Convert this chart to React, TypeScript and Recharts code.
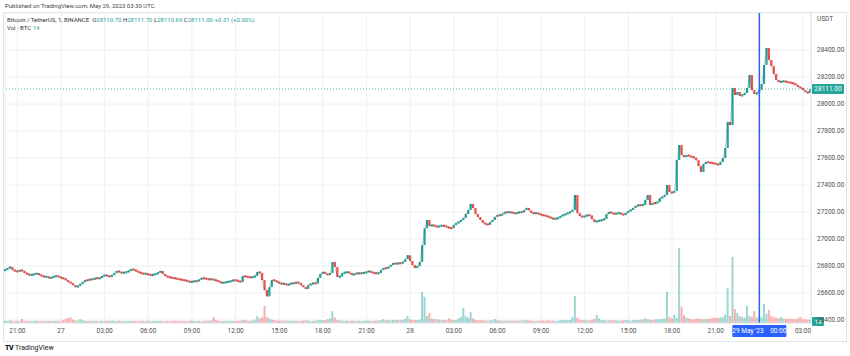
import { Bar, CartesianGrid, ComposedChart, Line, ReferenceLine, XAxis, YAxis } from 'recharts';

// BTCUSDT, 10-minute closes, starting May 26 20:10 UTC
const closes = [
  26770, 26785, 26793, 26770, 26763, 26758, 26770, 26765, 26748, 26740, 26733, 26735,
  26741, 26745, 26735, 26726, 26719, 26722, 26711, 26714, 26722, 26728, 26719, 26711,
  26708, 26696, 26681, 26674, 26659, 26644, 26652, 26667, 26681, 26696, 26693, 26704,
  26700, 26711, 26708, 26711, 26726, 26733, 26728, 26719, 26733, 26748, 26763, 26756,
  26748, 26752, 26756, 26763, 26778, 26770, 26763, 26752, 26748, 26741, 26744, 26735,
  26733, 26736, 26741, 26750, 26763, 26741, 26726, 26719, 26714, 26711, 26708, 26704,
  26700, 26696, 26693, 26689, 26681, 26684, 26689, 26686, 26700, 26711, 26708, 26704,
  26700, 26704, 26696, 26693, 26684, 26674, 26677, 26681, 26684, 26689, 26696, 26693,
  26689, 26681, 26726, 26722, 26719, 26715, 26719, 26726, 26756, 26750, 26696, 26622,
  26575, 26644, 26696, 26693, 26681, 26674, 26667, 26670, 26659, 26665, 26674, 26670,
  26681, 26674, 26659, 26644, 26630, 26659, 26667, 26674, 26670, 26711, 26741, 26756,
  26744, 26733, 26748, 26830, 26793, 26719, 26722, 26748, 26752, 26756, 26748, 26733,
  26741, 26748, 26745, 26748, 26750, 26756, 26763, 26752, 26748, 26745, 26748, 26770,
  26785, 26782, 26793, 26807, 26822, 26815, 26822, 26820, 26830, 26850, 26880, 26837,
  26807, 26785, 26800, 26830, 26955, 27080, 27141, 27096, 27104, 27096, 27089, 27096,
  27100, 27096, 27089, 27082, 27080, 27104, 27119, 27126, 27141, 27155, 27185, 27215,
  27260, 27230, 27185, 27163, 27141, 27119, 27111, 27104, 27126, 27141, 27163, 27178,
  27175, 27185, 27200, 27197, 27200, 27193, 27190, 27193, 27200, 27197, 27215, 27230,
  27212, 27193, 27190, 27193, 27185, 27178, 27175, 27170, 27163, 27155, 27148, 27152,
  27155, 27170, 27178, 27185, 27193, 27200, 27215, 27326, 27193, 27170, 27163, 27170,
  27178, 27175, 27148, 27126, 27133, 27136, 27141, 27148, 27185, 27200, 27193, 27185,
  27190, 27193, 27185, 27178, 27193, 27207, 27215, 27230, 27245, 27252, 27250, 27252,
  27289, 27326, 27252, 27267, 27265, 27274, 27304, 27311, 27326, 27400, 27348, 27341,
  27356, 27585, 27696, 27622, 27607, 27622, 27615, 27607, 27604, 27585, 27541, 27496,
  27556, 27570, 27567, 27563, 27560, 27556, 27548, 27570, 27600, 27674, 27867, 27844,
  28119, 28067, 28089, 28060, 28067, 28081, 28119, 28215, 28104, 28074, 28081, 28104,
  28148, 28289, 28415, 28326, 28282, 28222, 28178, 28163, 28165, 28170, 28163, 28160,
  28156, 28152, 28141, 28126, 28119, 28104, 28089, 28081, 28111,
];

// volume (BTC) per 10-minute slot
const volumes = [
  30, 25, 35, 28, 22, 30, 26, 52, 30, 24, 28, 22,
  26, 30, 24, 28, 22, 26, 30, 24, 28, 26, 30, 24,
  40, 55, 65, 78, 45, 35, 30, 52, 38, 30, 26, 28,
  24, 30, 26, 22, 28, 24, 30, 26, 32, 28, 24, 30,
  26, 22, 28, 24, 26, 30, 24, 22, 28, 26, 24, 30,
  22, 26, 28, 24, 30, 26, 22, 28, 24, 26, 30, 24,
  28, 24, 26, 22, 28, 30, 26, 24, 28, 22, 26, 30,
  28, 36, 78, 40, 30, 26, 24, 28, 26, 30, 24, 28,
  26, 30, 40, 34, 30, 28, 32, 45, 90, 60, 80, 220,
  78, 60, 45, 38, 32, 30, 34, 28, 30, 26, 32, 28,
  30, 26, 28, 32, 34, 30, 26, 28, 30, 36, 40, 38,
  34, 50, 60, 155, 70, 40, 34, 30, 28, 32, 26, 30,
  28, 24, 30, 26, 28, 32, 30, 26, 28, 30, 34, 38,
  52, 40, 36, 34, 38, 42, 40, 36, 44, 56, 90, 48,
  40, 36, 38, 45, 400, 340, 90, 130, 60, 52, 48, 45,
  40, 42, 38, 65, 44, 40, 36, 60, 80, 195, 90, 70,
  140, 60, 40, 36, 34, 38, 32, 30, 34, 36, 52, 36,
  32, 30, 28, 34, 30, 28, 32, 30, 28, 34, 30, 40,
  32, 30, 28, 26, 30, 28, 32, 30, 34, 28, 30, 26,
  30, 34, 38, 40, 36, 42, 80, 350, 70, 46, 40, 34,
  32, 36, 42, 55, 104, 60, 40, 34, 32, 30, 38, 36,
  34, 30, 32, 36, 38, 34, 30, 36, 40, 38, 44, 46,
  60, 50, 44, 40, 46, 52, 48, 56, 60, 400, 80, 60,
  104, 65, 970, 210, 100, 70, 60, 52, 48, 56, 60, 52,
  48, 52, 56, 60, 64, 70, 66, 72, 78, 110, 450, 90,
  850, 180, 130, 90, 80, 70, 220, 90, 80, 156, 70, 65,
  80, 245, 120, 168, 90, 75, 70, 60, 78, 56, 60, 52,
  56, 50, 48, 60, 78, 52, 48, 44, 40,
];

const priceTicks = [26400, 26600, 26800, 27000, 27200, 27400, 27600, 27800, 28000, 28200, 28400];
// hours counted from May 26 00:00 UTC
const timeTicks = [21, 24, 27, 30, 33, 36, 39, 42, 45, 48, 51, 54, 57, 60, 63, 66, 69, 72, 75];
const dayLabels: Record<number, string> = { 24: '27', 48: '28' };

const START_HOUR = 20 + 10 / 60;
const STEP_HOUR = 10 / 60;
const LAST_PRICE = 28111;
const CROSSHAIR_HOUR = 72;

const UP = '#26a69a';
const DOWN = '#ef5350';
const FONT = 'Roboto, "DejaVu Sans", sans-serif';

const data = closes.map((close, i) => {
  const open = i === 0 ? close : closes[i - 1];
  return {
    t: START_HOUR + i * STEP_HOUR,
    close,
    body: [Math.min(open, close), Math.max(open, close)],
    up: close >= open,
    vol: volumes[i],
  };
});

function fmtTime(t: number) {
  if (t === CROSSHAIR_HOUR) return '';
  if (dayLabels[t]) return dayLabels[t];
  return String(t % 24).padStart(2, '0') + ':00';
}

function Candle(props: any) {
  const { x, y, width, height, payload } = props;
  if (x == null || y == null) return null;
  let top = Math.min(y, y + height);
  let h = Math.abs(height);
  if (h < 2.2) {
    top = top + h / 2 - 1.1;
    h = 2.2;
  }
  return <rect x={x} y={top} width={width} height={h} fill={payload.up ? UP : DOWN} />;
}

function VolBar(props: any) {
  const { x, y, width, height, payload } = props;
  if (!height) return null;
  return <rect x={x} y={y} width={width} height={height} fill={payload.up ? UP : DOWN} fillOpacity={0.45} />;
}

function PriceTag(props: any) {
  const vb = props.viewBox;
  const left = vb.x + vb.width + 1;
  return (
    <g>
      <rect x={left} y={vb.y - 5} width={32} height={10} fill={UP} rx={1} />
      <text x={left + 16} y={vb.y + 2.3} textAnchor="middle" fontSize={6.5} fill="#fff" fontFamily={FONT}>
        {LAST_PRICE.toFixed(2)}
      </text>
    </g>
  );
}

function VolTag(props: any) {
  const vb = props.viewBox;
  const left = vb.x + vb.width + 1;
  return (
    <g>
      <rect x={left} y={vb.y - 5} width={12} height={9} fill={UP} rx={1} />
      <text x={left + 6} y={vb.y + 1.6} textAnchor="middle" fontSize={6} fill="#fff" fontFamily={FONT}>
        14
      </text>
    </g>
  );
}

function CrosshairTag(props: any) {
  const vb = props.viewBox;
  const bottom = vb.y + vb.height;
  return (
    <g>
      <rect x={vb.x - 27} y={bottom + 2} width={54} height={12} fill="#2962ff" rx={1} />
      <text x={vb.x} y={bottom + 10.3} textAnchor="middle" fontSize={6.5} fill="#fff" fontFamily={FONT}>
        {"29 May '23\u2002\u200200:00"}
      </text>
    </g>
  );
}

export default function App() {
  return (
    <div style={{ position: 'absolute', left: 0, top: 0, width: 850, height: 356, background: '#fff', fontFamily: FONT, overflow: 'hidden' }}>
      <div style={{ position: 'absolute', left: 5, top: 2, fontSize: 6, color: '#444', whiteSpace: 'nowrap' }}>
        Published on TradingView.com, May 29, 2023 03:30 UTC
      </div>
      <div style={{ position: 'absolute', left: 3, top: 12, width: 844, height: 330, border: '1px solid #e0e3eb', boxSizing: 'border-box' }} />
      <div style={{ position: 'absolute', left: 0, top: 0 }}>
        <ComposedChart width={850} height={356} data={data} margin={{ top: 13, right: 0, bottom: 0, left: 5 }}>
          <CartesianGrid xAxisId="p" yAxisId="price" stroke="#eef0f4" />
          <XAxis
            xAxisId="p"
            type="number"
            dataKey="t"
            domain={[20.15, 75.55]}
            ticks={timeTicks}
            tickFormatter={fmtTime}
            height={33}
            tickLine={false}
            tickSize={0}
            tickMargin={5}
            axisLine={{ stroke: '#e0e3eb' }}
            tick={{ fontSize: 6.5, fill: '#4f4f4f', fontFamily: FONT }}
            interval={0}
          />
          <XAxis xAxisId="v" type="number" dataKey="t" domain={[20.15, 75.55]} hide />
          <YAxis
            yAxisId="price"
            orientation="right"
            width={39}
            domain={[26378, 28674]}
            ticks={priceTicks}
            tickFormatter={(v: number) => v.toFixed(2)}
            tickLine={false}
            tickSize={0}
            tickMargin={6}
            axisLine={{ stroke: '#e0e3eb' }}
            tick={{ fontSize: 6.5, fill: '#4f4f4f', fontFamily: FONT }}
            interval={0}
          />
          <YAxis yAxisId="vol" domain={[0, 4000]} hide />
          <Bar xAxisId="v" yAxisId="vol" dataKey="vol" barSize={2} shape={VolBar} isAnimationActive={false} />
          <ReferenceLine xAxisId="p" yAxisId="price" y={LAST_PRICE} stroke={UP} strokeDasharray="1 2" strokeOpacity={0.8} label={<PriceTag />} />
          <Bar xAxisId="p" yAxisId="price" dataKey="body" barSize={3} shape={Candle} isAnimationActive={false} />
          <Line
            xAxisId="p"
            yAxisId="price"
            dataKey="close"
            type="linear"
            stroke="#3a3a3a"
            strokeOpacity={0.35}
            strokeWidth={0.7}
            dot={false}
            activeDot={false}
            isAnimationActive={false}
          />
          <ReferenceLine xAxisId="v" yAxisId="vol" y={14} stroke="none" label={<VolTag />} />
          <ReferenceLine xAxisId="p" yAxisId="price" x={CROSSHAIR_HOUR} stroke="#2962ff" strokeWidth={1.5} label={<CrosshairTag />} />
        </ComposedChart>
      </div>
      <div style={{ position: 'absolute', left: 7, top: 16, fontSize: 6, color: '#333', whiteSpace: 'nowrap', lineHeight: '8px' }}>
        <div>
          Bitcoin / TetherUS, 1, BINANCE&nbsp;&nbsp;O<span style={{ color: UP }}>28110.70</span> H<span style={{ color: UP }}>28111.70</span> L
          <span style={{ color: UP }}>28110.69</span> C<span style={{ color: UP }}>28111.00</span> <span style={{ color: UP }}>+0.31 (+0.00%)</span>
        </div>
        <div>
          Vol · BTC <span style={{ color: UP }}>14</span>
        </div>
      </div>
      <div style={{ position: 'absolute', left: 817, top: 15, fontSize: 6.5, color: '#4f4f4f' }}>USDT</div>
      <div style={{ position: 'absolute', left: 5, top: 344, fontSize: 7, color: '#131722', whiteSpace: 'nowrap', display: 'flex', alignItems: 'center', gap: 2 }}>
        <span style={{ fontWeight: 900, letterSpacing: -0.5 }}>TV</span>
        <span>TradingView</span>
      </div>
    </div>
  );
}
